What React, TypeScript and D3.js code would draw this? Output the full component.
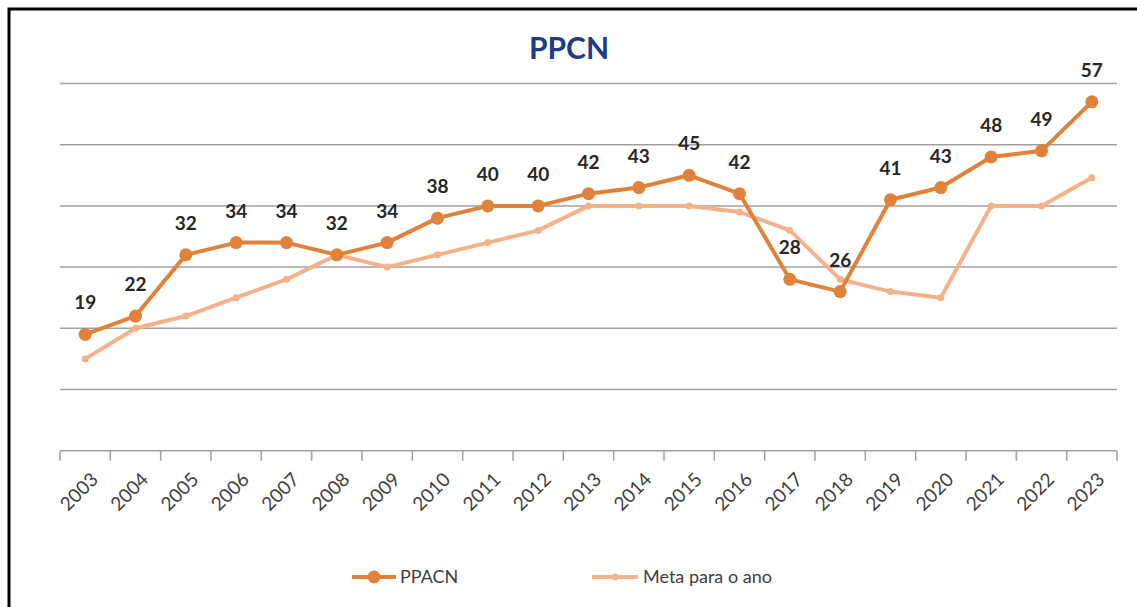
import React, { useEffect, useRef } from "react";
import * as d3 from "d3";

const years = ["2003","2004","2005","2006","2007","2008","2009","2010","2011","2012","2013","2014","2015","2016","2017","2018","2019","2020","2021","2022","2023"];
const ppacn = [19,22,32,34,34,32,34,38,40,40,42,43,45,42,28,26,41,43,48,49,57];
const meta = [15,20,22,25,28,32,30,32,34,36,40,40,40,39,36,28,26,25,40,40,44.6];
const yTicks = [0,10,20,30,40,50,60];

const W = 1137, H = 607;
const ORANGE = "#E0823A";
const PEACH = "#F5B28A";
const FONT = "Lato, 'Open Sans', sans-serif";

export default function App() {
  const ref = useRef<SVGSVGElement>(null);
  useEffect(() => {
    document.body.style.margin = "0";
    const svg = d3.select(ref.current);
    svg.selectAll("*").remove();
    const x = d3.scaleBand<string>().domain(years).range([60, 1117]);
    const y = d3.scaleLinear().domain([0, 60]).range([450.7, 83.5]);
    const cx = (d: string) => (x(d) as number) + x.bandwidth() / 2;

    svg.append("rect").attr("width", W).attr("height", H).attr("fill", "#fff");
    svg.append("rect").attr("x", 9).attr("y", 9).attr("width", 1200).attr("height", 700)
      .attr("fill", "none").attr("stroke", "#000").attr("stroke-width", 3);

    svg.append("text").attr("x", 569).attr("y", 59).attr("text-anchor", "middle")
      .attr("font-family", FONT).attr("font-weight", 700).attr("font-size", 30)
      .attr("fill", "#1F3C82").text("PPCN");

    // gridlines
    svg.append("g").selectAll("line").data(yTicks.filter(t => t > 0)).join("line")
      .attr("x1", 60).attr("x2", 1117).attr("y1", d => y(d)).attr("y2", d => y(d))
      .attr("stroke", "#A0A0A0").attr("stroke-width", 1.5);

    // x axis
    const axis = svg.append("g").attr("transform", `translate(0,${y(0)})`);
    axis.append("line").attr("x1", 60).attr("x2", 1117).attr("stroke", "#A0A0A0").attr("stroke-width", 1.5);
    const bounds = d3.range(years.length + 1).map(i => 60 + i * x.step());
    axis.selectAll("line.tick").data(bounds).join("line").attr("class", "tick")
      .attr("x1", d => d).attr("x2", d => d).attr("y1", 0).attr("y2", 10)
      .attr("stroke", "#A0A0A0").attr("stroke-width", 1.5);
    axis.selectAll("text").data(years).join("text")
      .attr("transform", d => `translate(${cx(d) + 4},${20}) rotate(-45)`)
      .attr("text-anchor", "end").attr("dy", "0.75em")
      .attr("font-family", FONT).attr("font-size", 19).attr("fill", "#404040").text(d => d);

    const line = d3.line<number>().x((_, i) => cx(years[i])).y(d => y(d));
    svg.append("path").datum(meta).attr("d", line).attr("fill", "none")
      .attr("stroke", PEACH).attr("stroke-width", 4).attr("stroke-linejoin", "round");
    svg.append("g").selectAll("circle").data(meta).join("circle")
      .attr("cx", (_, i) => cx(years[i])).attr("cy", d => y(d)).attr("r", 3.5).attr("fill", PEACH);

    svg.append("path").datum(ppacn).attr("d", line).attr("fill", "none")
      .attr("stroke", ORANGE).attr("stroke-width", 4).attr("stroke-linejoin", "round");
    svg.append("g").selectAll("circle").data(ppacn).join("circle")
      .attr("cx", (_, i) => cx(years[i])).attr("cy", d => y(d)).attr("r", 6.5).attr("fill", ORANGE);

    svg.append("g").selectAll("text").data(ppacn).join("text")
      .attr("x", (_, i) => cx(years[i])).attr("y", d => y(d) - 25)
      .attr("text-anchor", "middle").attr("font-family", FONT).attr("font-weight", 700)
      .attr("font-size", 19).attr("fill", "#262626").text(d => String(d));

    // legend
    const lg = svg.append("g");
    lg.append("line").attr("x1", 352).attr("x2", 396).attr("y1", 577).attr("y2", 577)
      .attr("stroke", ORANGE).attr("stroke-width", 4);
    lg.append("circle").attr("cx", 374).attr("cy", 577).attr("r", 6.5).attr("fill", ORANGE);
    lg.append("text").attr("x", 400).attr("y", 583).attr("font-family", FONT).attr("font-size", 18)
      .attr("fill", "#404040").text("PPACN");
    lg.append("line").attr("x1", 592).attr("x2", 638).attr("y1", 577).attr("y2", 577)
      .attr("stroke", PEACH).attr("stroke-width", 4);
    lg.append("circle").attr("cx", 615).attr("cy", 577).attr("r", 3.5).attr("fill", PEACH);
    lg.append("text").attr("x", 643).attr("y", 583).attr("font-family", FONT).attr("font-size", 18)
      .attr("fill", "#404040").text("Meta para o ano");
  }, []);
  return <svg ref={ref} width={W} height={H} style={{ display: "block" }} />;
}
